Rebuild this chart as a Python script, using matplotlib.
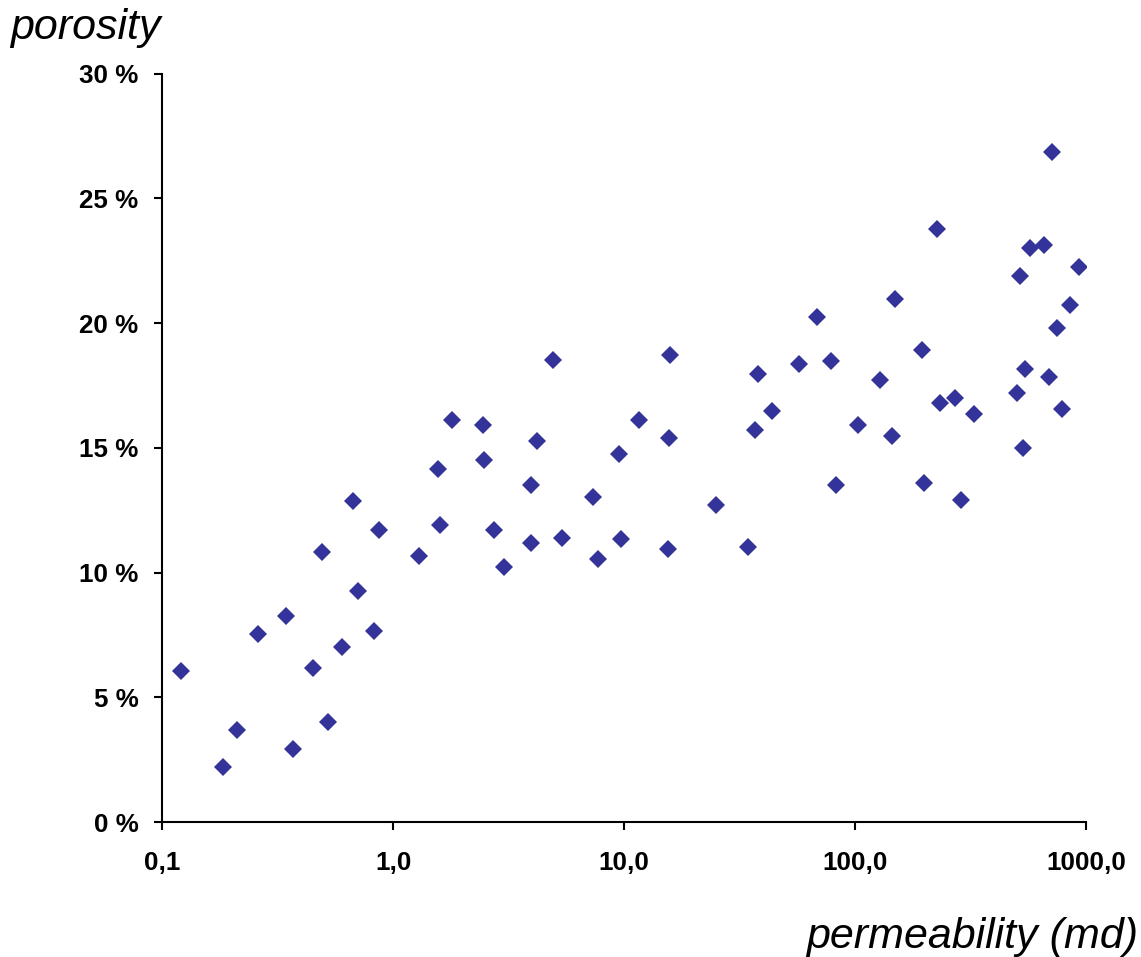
import numpy as np
import matplotlib.pyplot as plt
from matplotlib.ticker import FixedLocator, FixedFormatter, NullLocator

# permeability (md) and porosity (%)
perm = [0.121, 0.184, 0.211, 0.26, 0.344, 0.369, 0.45, 0.493, 0.523, 0.601,
        0.671, 0.705, 0.828, 0.87, 1.30, 1.57, 1.60, 1.80, 2.45, 2.48,
        2.74, 3.03, 3.96, 3.96, 4.20, 4.93, 5.39, 7.34, 7.72, 9.51,
        9.71, 11.6, 15.5, 15.7, 15.8, 25.0, 34.4, 36.9, 38.0, 43.7,
        57.3, 68.4, 78.7, 82.8, 103, 128, 145, 149, 195, 199,
        226, 233, 271, 288, 327, 712, 571, 658, 933, 518,
        850, 747, 543, 692, 503, 785, 535]
poro = [6.06, 2.2, 3.69, 7.54, 8.26, 2.93, 6.18, 10.83, 4.01, 7.02,
        12.88, 9.27, 7.66, 11.71, 10.67, 14.16, 11.91, 16.12, 15.92, 14.52,
        11.71, 10.23, 13.52, 11.19, 15.28, 18.53, 11.39, 13.04, 10.55, 14.76,
        11.35, 16.12, 10.95, 15.40, 18.73, 12.72, 11.03, 15.72, 17.97, 16.49,
        18.37, 20.26, 18.49, 13.52, 15.92, 17.73, 15.48, 20.98, 18.93, 13.6,
        23.79, 16.81, 17.01, 12.92, 16.37, 26.87, 23.02, 23.14, 22.26, 21.87,
        20.71, 19.82, 18.16, 17.84, 17.2, 16.55, 15.01]

x_ticks = [0.1, 1, 10, 100, 1000]
x_labels = ['0,1', '1,0', '10,0', '100,0', '1000,0']
y_ticks = [0, 5, 10, 15, 20, 25, 30]
y_labels = ['0 %', '5 %', '10 %', '15 %', '20 %', '25 %', '30 %']

plt.rcParams['font.family'] = ['Liberation Sans', 'DejaVu Sans']

fig = plt.figure(figsize=(11.41, 9.57), dpi=100)
ax = fig.add_axes([0.142, 0.141, 0.810, 0.782])

ax.plot(perm, poro, linestyle='none', marker='D', markersize=9.5,
        color='#333399', markeredgewidth=0)

ax.set_xscale('log')
ax.set_xlim(0.1, 1000)
ax.set_ylim(0, 30)
ax.xaxis.set_major_locator(FixedLocator(x_ticks))
ax.xaxis.set_major_formatter(FixedFormatter(x_labels))
ax.xaxis.set_minor_locator(NullLocator())
ax.yaxis.set_major_locator(FixedLocator(y_ticks))
ax.yaxis.set_major_formatter(FixedFormatter(y_labels))

for s in ['top', 'right']:
    ax.spines[s].set_visible(False)
for s in ['left', 'bottom']:
    ax.spines[s].set_linewidth(1.5)

ax.tick_params(axis='both', direction='out', length=6, width=1.5, labelsize=18.7)
ax.tick_params(axis='x', pad=14.5)
ax.tick_params(axis='y', pad=11)
for lab in ax.get_xticklabels() + ax.get_yticklabels():
    lab.set_fontweight('bold')

fig.text(10 / 1141, 1 - 28 / 957, 'porosity', fontsize=31, style='italic',
         ha='left', va='center')
fig.text(1138 / 1141, 1 - 937 / 957, 'permeability (md)', fontsize=31,
         style='italic', ha='right', va='center')

fig.savefig('out.png', dpi=100)
